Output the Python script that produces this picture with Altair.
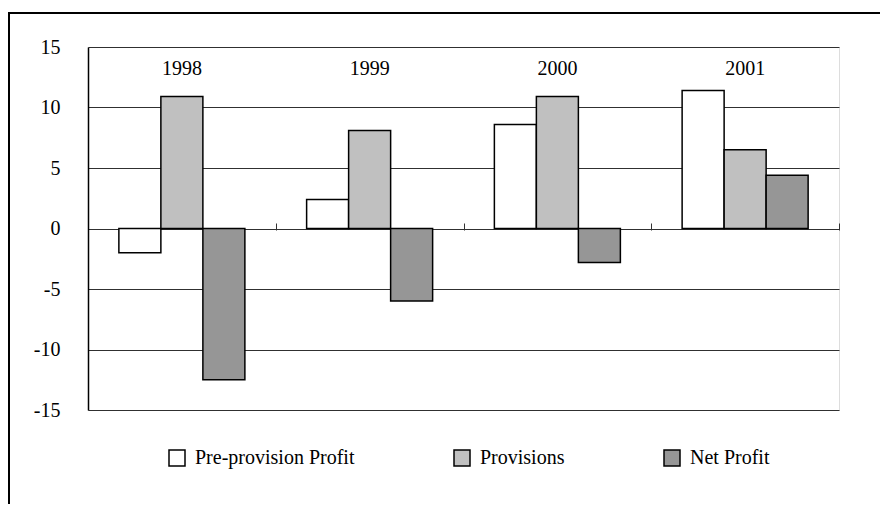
import altair as alt
import pandas as pd

years = ["1998", "1999", "2000", "2001"]
series = ["Pre-provision Profit", "Provisions", "Net Profit"]
pre_provision = [-2.0, 2.4, 8.6, 11.4]
provisions = [10.9, 8.1, 10.9, 6.5]
net_profit = [-12.5, -6.0, -2.8, 4.4]
y_ticks = [-15, -10, -5, 0, 5, 10, 15]
colors = ["#ffffff", "#c0c0c0", "#969696"]

rows = []
for i, yr in enumerate(years):
    for s, vals in zip(series, [pre_provision, provisions, net_profit]):
        rows.append({"year": yr, "series": s, "value": vals[i]})
df = pd.DataFrame(rows)
df_years = pd.DataFrame({"year": years})
df_frame = pd.DataFrame({"f": [0]})

FONT = "Liberation Serif"

x_enc = alt.X("year:N", sort=years,
              scale=alt.Scale(paddingInner=0, paddingOuter=0),
              axis=alt.Axis(title=None, labels=False, domain=False, grid=False,
                            tickBand="extent", tickSize=7, tickColor="#333333",
                            tickWidth=1, offset=-187))

y_enc = alt.Y("value:Q",
              scale=alt.Scale(domain=[-15, 15], nice=False, zero=True),
              axis=alt.Axis(title=None, values=y_ticks, tickSize=0, labelPadding=28,
                            labelFont=FONT, labelFontSize=20, labelColor="black",
                            labelExpr="'' + datum.value",
                            domainColor="black", domainWidth=1.5,
                            grid=True, gridColor="#303030", gridWidth=1))

bars = alt.Chart(df).mark_bar(stroke="black", strokeWidth=1.5).encode(
    x=x_enc,
    xOffset=alt.XOffset("series:N", sort=series,
                        scale=alt.Scale(domain=series, paddingInner=0, paddingOuter=0.735)),
    y=y_enc,
    fill=alt.Fill("series:N", sort=series,
                  scale=alt.Scale(domain=series, range=colors),
                  legend=alt.Legend(orient="none", legendX=79, legendY=401,
                                    direction="horizontal", columns=3,
                                    symbolType="square", symbolSize=256,
                                    symbolStrokeColor="black", symbolStrokeWidth=1.5,
                                    symbolOpacity=1,
                                    labelFont=FONT, labelFontSize=20, labelColor="black",
                                    labelOffset=8, columnPadding=96, title=None,
                                    padding=0)),
)

labels = alt.Chart(df_years).mark_text(font=FONT, fontSize=20, color="black",
                                       baseline="middle", align="center").encode(
    x=alt.X("year:N", sort=years),
    y=alt.datum(13.2),
    text="year:N",
)

frame = alt.Chart(df_frame).mark_rect(fillOpacity=0, stroke="black", strokeWidth=2,
                                      clip=False).encode(
    x=alt.value(-79), x2=alt.value(900), y=alt.value(-34), y2=alt.value(700)
)

chart = alt.layer(frame, bars, labels).properties(
    width=751, height=363,
    autosize=alt.AutoSizeParams(type="none"),
    padding={"left": 80, "top": 39, "right": 41, "bottom": 94},
).configure_view(stroke="#808080", strokeWidth=1.5).configure(background="white")

chart.save("out.html", embed_options={"renderer": "svg", "actions": False})
